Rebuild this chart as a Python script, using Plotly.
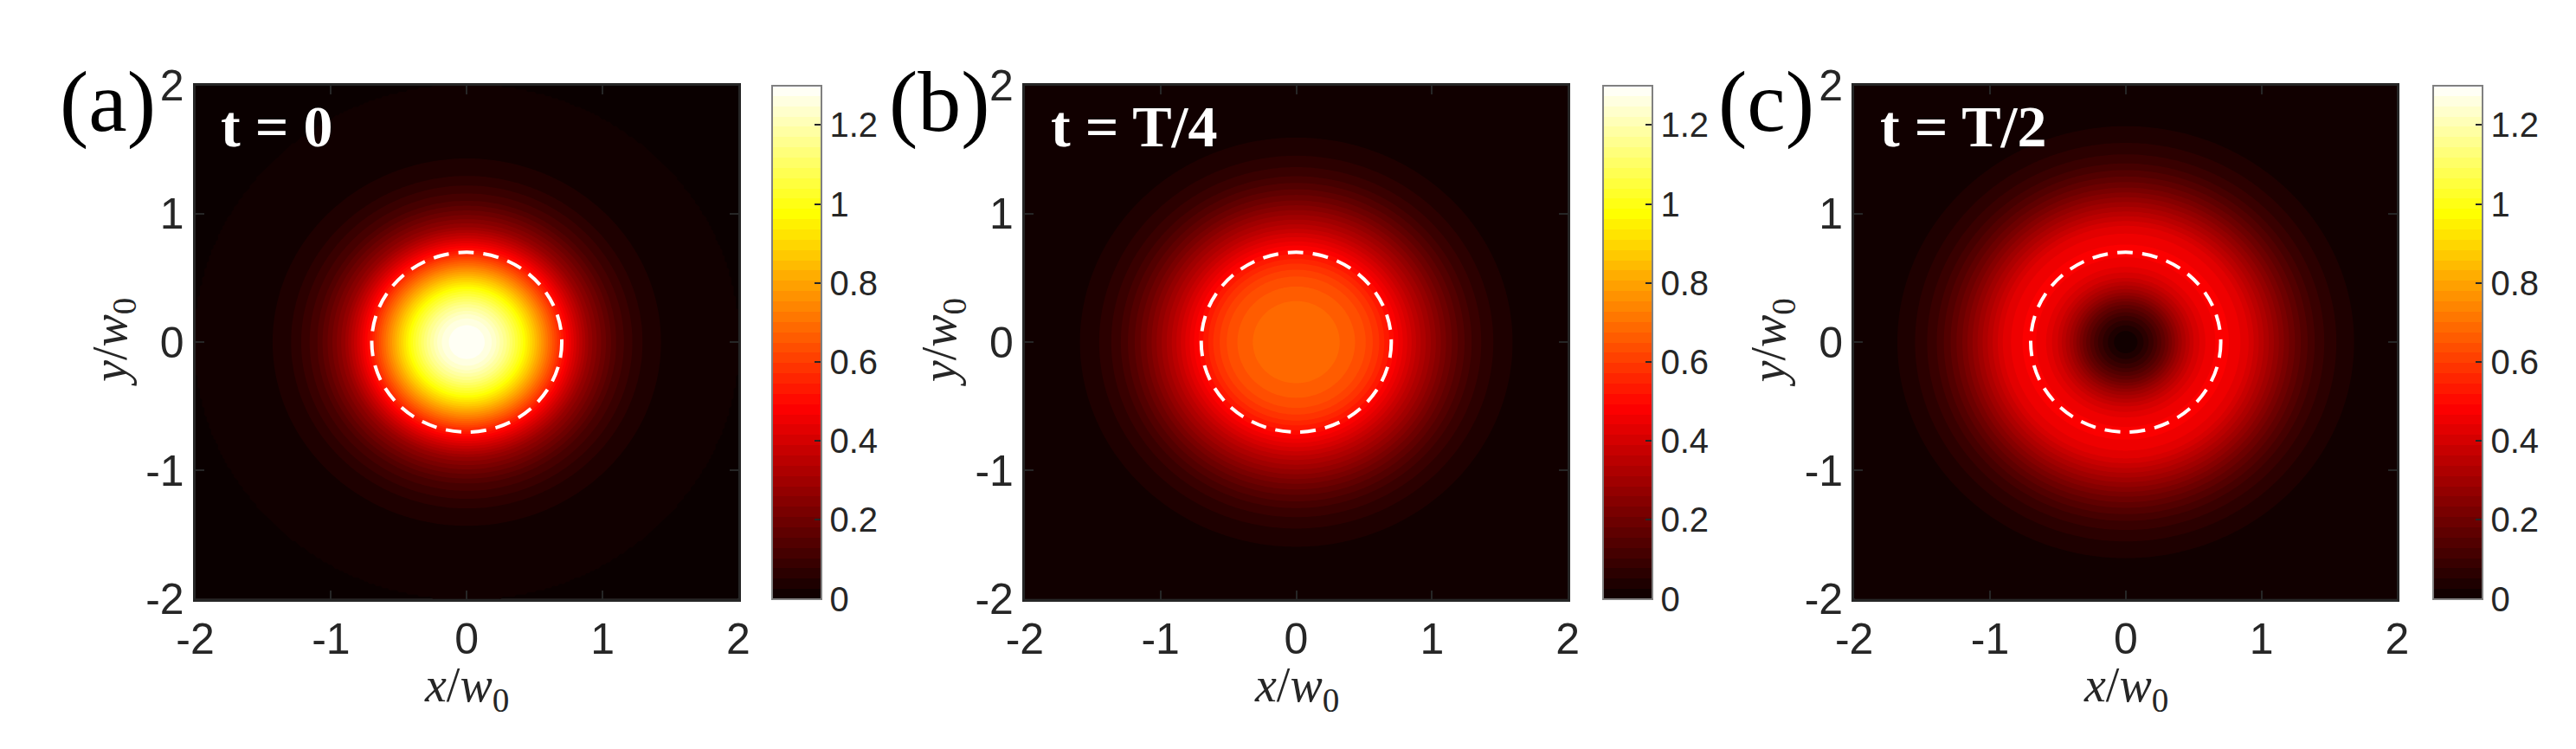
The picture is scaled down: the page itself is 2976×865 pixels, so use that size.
import numpy as np
import plotly.graph_objects as go

# radial intensity profiles (r in units of w0)
r_samples = [0.0, 0.1, 0.2, 0.3, 0.4, 0.5, 0.6, 0.7, 0.8, 0.9, 1.0,
             1.1, 1.2, 1.3, 1.4, 1.5, 1.6, 1.7, 1.8, 1.9, 2.0]
intensity_t0 = [1.30, 1.29, 1.24, 1.14, 1.01, 0.86, 0.70, 0.54, 0.40, 0.28, 0.20,
                0.13, 0.085, 0.05, 0.03, 0.017, 0.009, 0.005, 0.002, 0.001, 0.0]
intensity_t4 = [0.70, 0.70, 0.69, 0.68, 0.66, 0.63, 0.58, 0.51, 0.43, 0.35, 0.28,
                0.21, 0.15, 0.10, 0.065, 0.04, 0.025, 0.014, 0.008, 0.004, 0.002]
intensity_t2 = [0.0, 0.03, 0.10, 0.19, 0.30, 0.39, 0.45, 0.48, 0.46, 0.42, 0.35,
                0.28, 0.21, 0.15, 0.10, 0.065, 0.04, 0.023, 0.013, 0.007, 0.003]

panel_labels = ["(a)", "(b)", "(c)"]
time_labels = ["t = 0", "t = T/4", "t = T/2"]
circle_radius = 0.7
axis_ticks = [-2, -1, 0, 1, 2]
axis_ticktext = ["-2", "-1", "0", "1", "2"]
cbar_ticks = [0, 0.2, 0.4, 0.6, 0.8, 1, 1.2]
cbar_ticktext = ["0", "0.2", "0.4", "0.6", "0.8", "1", "1.2"]

W, H = 2976, 865

# MATLAB-style hot colormap
hot_scale = [[0.0, "rgb(10,0,0)"], [0.375, "rgb(255,0,0)"],
             [0.75, "rgb(255,255,0)"], [1.0, "rgb(255,255,255)"]]

grid = np.linspace(-2, 2, 241)
X, Y = np.meshgrid(grid, grid)
R = np.hypot(X, Y)

profiles = [intensity_t0, intensity_t4, intensity_t2]
plot_left = [198, 1168, 2138]   # px
plot_w = 635
cbar_left = [873, 1844, 2815]
top_px, bot_px = 67, 702

fig = go.Figure()
annotations = []
shapes = []
tick_font = dict(family="Liberation Sans, Arial", size=50, color="#262626")

for i, prof in enumerate(profiles):
    z = np.interp(R, r_samples, prof)
    xa = "x" if i == 0 else f"x{i+1}"
    ya = "y" if i == 0 else f"y{i+1}"
    fig.add_trace(go.Contour(
        x=grid, y=grid, z=z, xaxis=xa, yaxis=ya,
        colorscale=hot_scale, zmin=0, zmax=1.3,
        contours=dict(start=0, end=1.3, size=0.026, coloring="fill"),
        line=dict(width=0),
        colorbar=dict(
            x=cbar_left[i] / W, xanchor="left", xpad=0, ypad=0,
            y=1 - (top_px + bot_px) / 2 / H, yanchor="middle",
            len=(bot_px - top_px) / H, lenmode="fraction",
            thickness=57, thicknessmode="pixels",
            outlinecolor="#808080", outlinewidth=2,
            tickvals=cbar_ticks, ticktext=cbar_ticktext,
            ticks="inside", ticklen=9, tickwidth=2, tickcolor="#262626",
            tickfont=dict(family="Liberation Sans, Arial", size=40, color="#262626"),
        ),
    ))

    x0 = plot_left[i] / W
    x1 = (plot_left[i] + plot_w) / W
    axis_common = dict(
        range=[-2, 2], tickvals=axis_ticks, ticktext=axis_ticktext,
        ticks="inside", ticklen=10,
        tickwidth=2, tickcolor="#262626", showline=True, linecolor="#262626",
        linewidth=3, mirror="ticks", showgrid=False, zeroline=False,
        tickfont=tick_font,
    )
    fig.update_layout(**{
        ("xaxis" if i == 0 else f"xaxis{i+1}"): dict(domain=[x0, x1], anchor=ya, **axis_common),
        ("yaxis" if i == 0 else f"yaxis{i+1}"): dict(domain=[1 - bot_px / H, 1 - top_px / H],
                                                     anchor=xa, **axis_common),
    })

    # dashed reference circle
    shapes.append(dict(type="circle", xref=xa, yref=ya,
                       x0=-circle_radius, x1=circle_radius,
                       y0=-circle_radius, y1=circle_radius,
                       line=dict(color="white", width=4, dash="18px,11px")))

    cx = (plot_left[i] + plot_w / 2) / W
    annotations += [
        dict(text=panel_labels[i], xref="paper", yref="paper",
             x=(plot_left[i] - 161) / W, xanchor="left",
             y=1 - 87 / H, yanchor="middle", showarrow=False,
             font=dict(family="Liberation Serif, Times New Roman", size=100, color="black")),
        dict(text="<b>" + time_labels[i] + "</b>", xref="paper", yref="paper",
             x=(plot_left[i] + 28) / W, xanchor="left",
             y=1 - 118 / H, yanchor="middle", showarrow=False,
             font=dict(family="Liberation Serif, Times New Roman", size=68, color="white")),
        dict(text="<i>x</i>/<i>w</i><sub>0</sub>", xref="paper", yref="paper",
             x=cx, xanchor="center", y=1 - 813 / H, yanchor="middle", showarrow=False,
             font=dict(family="Liberation Serif, Times New Roman", size=56, color="#262626")),
        dict(text="<i>y</i>/<i>w</i><sub>0</sub>", xref="paper", yref="paper",
             x=(plot_left[i] - 96) / W, xanchor="center",
             y=1 - (top_px + bot_px) / 2 / H, yanchor="middle", textangle=-90,
             showarrow=False,
             font=dict(family="Liberation Serif, Times New Roman", size=56, color="#262626")),
    ]

fig.update_layout(
    width=W, height=H, margin=dict(l=0, r=0, t=0, b=0),
    paper_bgcolor="white", plot_bgcolor="black",
    showlegend=False, annotations=annotations, shapes=shapes,
)

fig.write_html("out.html")
